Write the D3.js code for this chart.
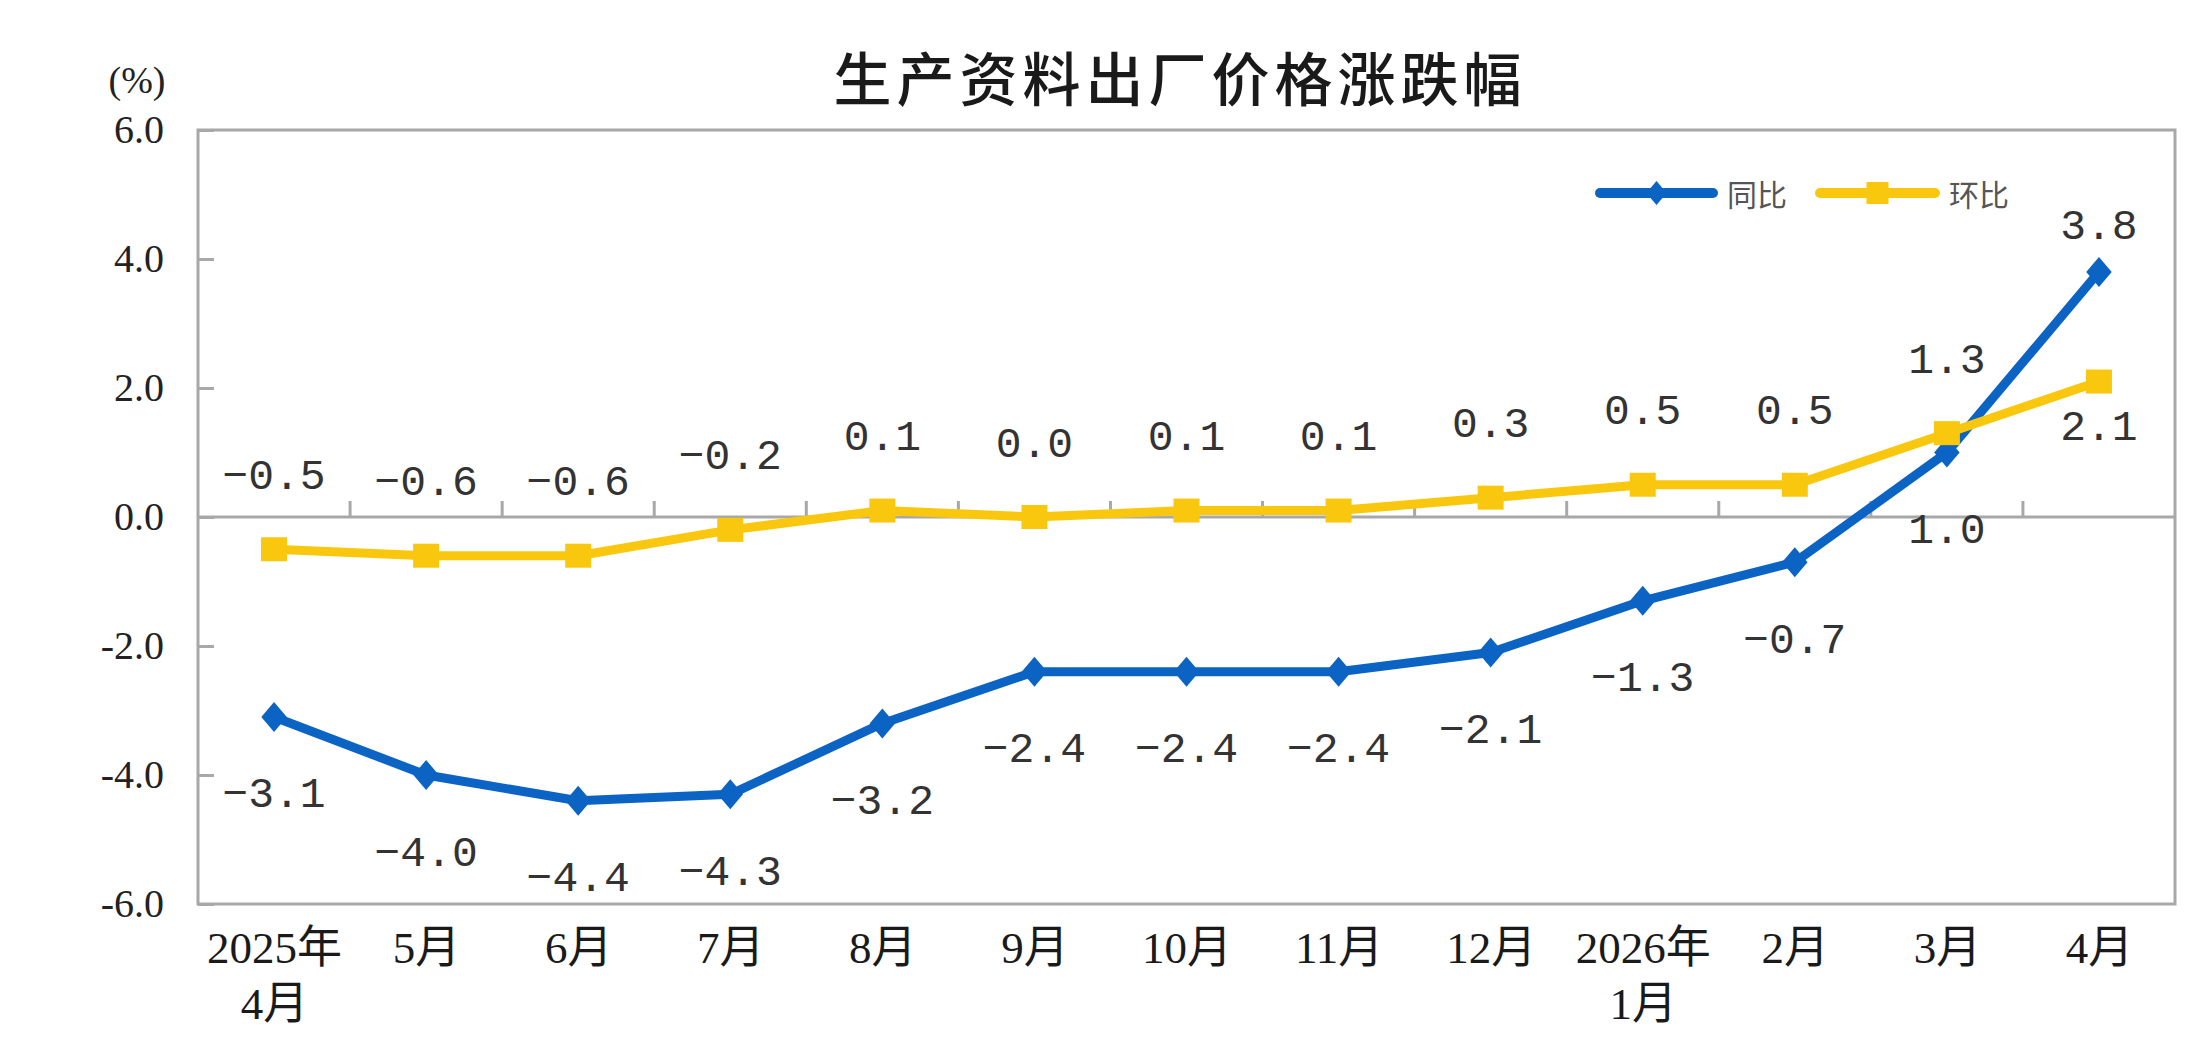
<!DOCTYPE html>
<html>
<head>
<meta charset="utf-8">
<script src="https://cdn.jsdelivr.net/npm/d3@7"></script>
<style>
html,body{margin:0;padding:0;background:#fff;}
svg{display:block;}
</style>
</head>
<body>
<svg id="chart" width="2208" height="1060"></svg>
<script>
// ---- data ----
const title = "生产资料出厂价格涨跌幅";
const unitLabel = "(%)";
const categories = ["2025年\n4月","5月","6月","7月","8月","9月","10月","11月","12月","2026年\n1月","2月","3月","4月"];
const seriesNames = ["同比","环比"];
const yoyValues = [-3.1,-4.0,-4.4,-4.3,-3.2,-2.4,-2.4,-2.4,-2.1,-1.3,-0.7,1.0,3.8];
const momValues = [-0.5,-0.6,-0.6,-0.2,0.1,0.0,0.1,0.1,0.3,0.5,0.5,1.3,2.1];
const yoyLabelSide = ["b","b","b","b","b","b","b","b","b","b","b","b","a"];
const momLabelSide = ["a","a","a","a","a","a","a","a","a","a","a","a","b"];
const yTicks = [6,4,2,0,-2,-4,-6];

// ---- layout ----
const svg = d3.select("#chart");
const L = 198, R = 2175, T = 130, B = 904;
const blue = "#0B63C4", yellow = "#F9C80E", frameColor = "#a8a8a8";

const x = d3.scalePoint().domain(categories).range([L, R]).padding(0.5);
const y = d3.scaleLinear().domain([-6, 6]).range([B, T]);

// title
svg.append("text").attr("x", 1180).attr("y", 76)
  .attr("text-anchor", "middle").attr("dominant-baseline", "central")
  .attr("font-family", "'Noto Sans CJK SC'").attr("font-weight", 500)
  .attr("font-size", 58).attr("letter-spacing", 5).attr("fill", "#1a1a1a")
  .text(title);

// unit
svg.append("text").attr("x", 137).attr("y", 80)
  .attr("text-anchor", "middle").attr("dominant-baseline", "central")
  .attr("font-family", "'Liberation Serif'").attr("font-size", 38).attr("fill", "#222")
  .text(unitLabel);

// frame
svg.append("rect").attr("x", L).attr("y", T).attr("width", R - L).attr("height", B - T)
  .attr("fill", "none").attr("stroke", frameColor).attr("stroke-width", 3);

// y axis
const yAxis = d3.axisLeft(y).tickValues(yTicks).tickSize(-16).tickPadding(36)
  .tickFormat(d => d.toFixed(1));
const gy = svg.append("g").attr("transform", `translate(${L},0)`).call(yAxis);
gy.select(".domain").remove();
gy.selectAll(".tick line").attr("stroke", frameColor).attr("stroke-width", 3);
gy.selectAll(".tick text").attr("font-family", "'Liberation Serif'").attr("font-size", 40)
  .attr("fill", "#222").attr("x", -34);

// zero line with upward ticks at category boundaries
svg.append("line").attr("x1", L).attr("x2", R).attr("y1", y(0)).attr("y2", y(0))
  .attr("stroke", frameColor).attr("stroke-width", 3);
const bounds = categories.slice(0, -1).map(c => x(c) + x.step() / 2);
svg.append("g").selectAll("line").data(bounds).join("line")
  .attr("x1", d => d).attr("x2", d => d).attr("y1", y(0)).attr("y2", y(0) - 16)
  .attr("stroke", frameColor).attr("stroke-width", 3);

// x axis labels
const xAxis = d3.axisBottom(x).tickSize(0).tickFormat("");
const gx = svg.append("g").attr("transform", `translate(0,${B})`).call(xAxis);
gx.select(".domain").remove();
gx.selectAll(".tick").each(function(d) {
  const lines = d.split("\n");
  const t = d3.select(this).append("text")
    .attr("text-anchor", "middle")
    .attr("font-family", "'Liberation Serif','Noto Sans CJK SC'")
    .attr("font-size", 45).attr("fill", "#1a1a1a");
  lines.forEach((ln, i) => {
    t.append("tspan").attr("x", 0).attr("y", 44 + i * 56)
      .attr("dominant-baseline", "central").text(ln);
  });
});

// lines
const lineGen = vals => d3.line().x((d, i) => x(categories[i])).y(d => y(d))(vals);
svg.append("path").attr("d", lineGen(yoyValues)).attr("fill", "none")
  .attr("stroke", blue).attr("stroke-width", 9).attr("stroke-linejoin", "round");
svg.append("path").attr("d", lineGen(momValues)).attr("fill", "none")
  .attr("stroke", yellow).attr("stroke-width", 9).attr("stroke-linejoin", "round");

// markers
const diamond = (cx, cy, r) => `M${cx},${cy - r}L${cx + r * 0.85},${cy}L${cx},${cy + r}L${cx - r * 0.85},${cy}Z`;
svg.append("g").selectAll("path").data(yoyValues).join("path")
  .attr("d", (d, i) => diamond(x(categories[i]), y(d), 15)).attr("fill", blue);
svg.append("g").selectAll("rect").data(momValues).join("rect")
  .attr("x", (d, i) => x(categories[i]) - 13).attr("y", d => y(d) - 12)
  .attr("width", 26).attr("height", 24).attr("fill", yellow);

// data labels
const fmt = d3.format(".1f");
function labels(vals, sides, offA, offB, lastOffA, lastOffB) {
  svg.append("g").selectAll("text").data(vals).join("text")
    .attr("x", (d, i) => x(categories[i]))
    .attr("y", (d, i) => {
      const last = i === vals.length - 1;
      const off = sides[i] === "a" ? (last ? lastOffA : offA) : (last ? lastOffB : offB);
      return y(d) + off;
    })
    .attr("text-anchor", "middle").attr("dominant-baseline", "central")
    .attr("font-family", "'Liberation Mono'").attr("font-size", 43)
    .attr("fill", "#333")
    .text(d => fmt(d));
}
labels(yoyValues, yoyLabelSide, -72, 79, -44, 79);
labels(momValues, momLabelSide, -72, 79, -72, 47);

// legend
const legendItems = [
  {name: seriesNames[0], color: blue, x0: 1600, x1: 1713, marker: "d"},
  {name: seriesNames[1], color: yellow, x0: 1820, x1: 1935, marker: "s"}
];
const lg = svg.append("g");
legendItems.forEach(it => {
  const ly = 193;
  lg.append("line").attr("x1", it.x0).attr("x2", it.x1).attr("y1", ly).attr("y2", ly)
    .attr("stroke", it.color).attr("stroke-width", 10).attr("stroke-linecap", "round");
  const cx = (it.x0 + it.x1) / 2;
  if (it.marker === "d") {
    lg.append("path").attr("d", diamond(cx, ly, 12)).attr("fill", it.color);
  } else {
    lg.append("rect").attr("x", cx - 11).attr("y", ly - 11).attr("width", 22).attr("height", 22).attr("fill", it.color);
  }
  lg.append("text").attr("x", it.x1 + 14).attr("y", ly)
    .attr("dominant-baseline", "central")
    .attr("font-family", "'Noto Sans CJK SC'").attr("font-size", 30).attr("fill", "#555")
    .text(it.name);
});
</script>
</body>
</html>
